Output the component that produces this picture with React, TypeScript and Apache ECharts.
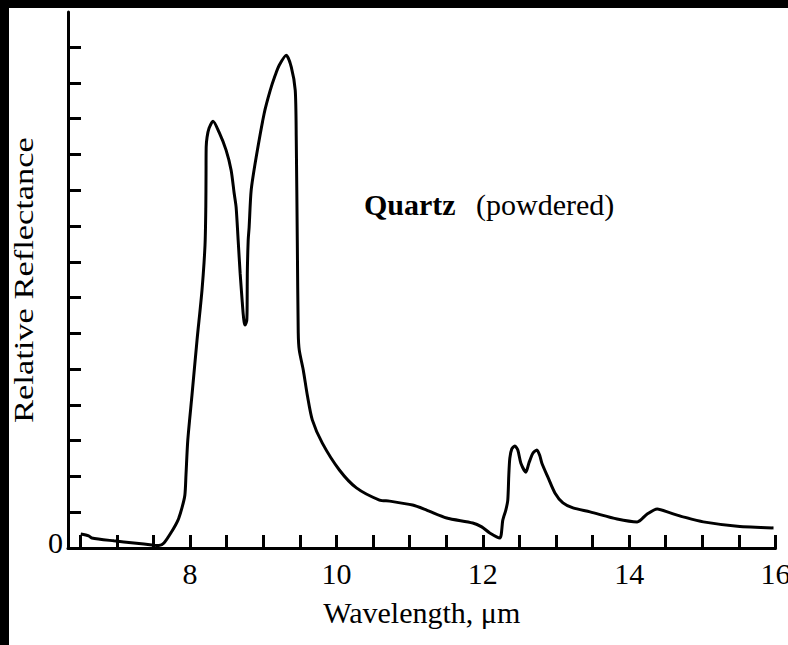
import React, { useEffect, useRef } from "react";
import * as echarts from "echarts";

// Wavelength (µm) and relative reflectance (tick units)
const wavelength = [
  6.507, 6.616, 6.658, 6.959, 7.233, 7.507, 7.575, 7.644, 7.753, 7.836, 7.89, 7.93,
  7.945, 7.97, 8.027, 8.096, 8.164, 8.205, 8.216, 8.219, 8.221, 8.233, 8.26, 8.315,
  8.397, 8.493, 8.562, 8.603, 8.63, 8.658, 8.685, 8.712, 8.726, 8.74, 8.753, 8.776,
  8.781, 8.783, 8.795, 8.808, 8.836, 8.904, 9.014, 9.096, 9.164, 9.219, 9.315, 9.384,
  9.438, 9.452, 9.466, 9.479, 9.493, 9.548, 9.603, 9.671, 9.808, 10.041, 10.274,
  10.589, 10.726, 11.041, 11.233, 11.507, 11.863, 11.986, 12.096, 12.233, 12.274,
  12.315, 12.342, 12.356, 12.37, 12.397, 12.438, 12.479, 12.521, 12.589, 12.63,
  12.685, 12.74, 12.781, 12.808, 12.89, 12.986, 13.096, 13.233, 13.466, 13.836,
  14.11, 14.247, 14.384, 14.562, 14.74, 15.014, 15.479, 15.973,
];
const reflectance = [
  0.39, 0.34, 0.28, 0.2, 0.14, 0.08, 0.07, 0.14, 0.47, 0.78, 1.12, 1.48,
  2.04, 3.02, 4.27, 5.81, 7.21, 8.46, 9.53, 10.47, 11.2, 11.48, 11.73, 11.93,
  11.62, 11.12, 10.56, 9.92, 9.53, 8.6, 7.68, 6.93, 6.56, 6.31, 6.23, 6.37,
  6.93, 7.68, 8.6, 8.97, 10.0, 10.92, 12.15, 12.79, 13.21, 13.49, 13.77, 13.44,
  12.79, 11.4, 8.6, 6.01, 5.53, 4.97, 4.27, 3.58, 2.93, 2.18, 1.68,
  1.34, 1.31, 1.2, 1.06, 0.84, 0.7, 0.59, 0.42, 0.28, 0.78,
  1.06, 1.34, 2.04, 2.51, 2.77, 2.85, 2.74, 2.37, 2.12, 2.37,
  2.65, 2.74, 2.57, 2.37, 1.98, 1.54, 1.26, 1.12, 1.01, 0.81,
  0.73, 0.95, 1.09, 0.98, 0.87, 0.73, 0.61, 0.56,
];

const xTickValues = [6.5, 7, 7.5, 8, 8.5, 9, 9.5, 10, 10.5, 11, 11.5, 12, 12.5, 13, 13.5, 14, 14.5, 15, 15.5, 16];
const xLabelValues = [8, 10, 12, 14, 16];
const yTickValues = [1, 2, 3, 4, 5, 6, 7, 8, 9, 10, 11, 12, 13, 14];
const yLabelValues = [0];

const xAxisName = "Wavelength, μm";
const yAxisName = "Relative Reflectance";
const titleBold = "Quartz";
const titleNormal = "(powdered)";

const FONT = '"Liberation Serif", "Times New Roman", serif';

export default function App() {
  const ref = useRef<HTMLDivElement>(null);

  useEffect(() => {
    document.documentElement.style.background = "#000";
    document.body.style.background = "#000";
    if (!ref.current) return;
    const chart = echarts.init(ref.current, null, { renderer: "svg" });
    const data = wavelength.map((w, i) => [w, reflectance[i]]);
    chart.setOption({
      animation: false,
      backgroundColor: "#fff",
      grid: { left: 59, top: 4, width: 707.5, height: 536, containLabel: false, outerBoundsMode: "none" },
      xAxis: {
        type: "value",
        min: 6.333,
        max: 16,
        splitLine: { show: false },
        axisLine: { onZero: false, lineStyle: { color: "#000", width: 3 } },
        axisTick: {
          inside: true,
          length: 13,
          customValues: xTickValues,
          lineStyle: { color: "#000", width: 3 },
        },
        axisLabel: {
          customValues: xLabelValues,
          color: "#000",
          fontFamily: FONT,
          fontSize: 30,
          lineHeight: 30,
          margin: 10,
          hideOverlap: false,
        },
        name: xAxisName,
        nameLocation: "middle",
        nameGap: 49,
        nameTextStyle: { color: "#000", fontFamily: FONT, fontSize: 30, lineHeight: 30 },
      },
      yAxis: {
        type: "value",
        min: 0,
        max: 14.98,
        splitLine: { show: false },
        axisLine: { onZero: false, lineStyle: { color: "#000", width: 3 } },
        axisTick: {
          inside: true,
          length: 13,
          customValues: yTickValues,
          lineStyle: { color: "#000", width: 3 },
        },
        axisLabel: {
          customValues: yLabelValues,
          color: "#000",
          fontFamily: FONT,
          fontSize: 30,
          lineHeight: 12,
          margin: 5,
          verticalAlign: "bottom",
        },
      },
      graphic: [
        {
          type: "text",
          x: 15,
          y: 272,
          rotation: Math.PI / 2,
          scaleX: 1.23,
          style: {
            text: yAxisName,
            fill: "#000",
            font: `28px ${FONT}`,
            textAlign: "center",
            textVerticalAlign: "middle",
          },
        },
        {
          type: "text",
          left: 355,
          top: 181,
          style: { text: titleBold, fill: "#000", font: `bold 30px ${FONT}` },
        },
        {
          type: "text",
          left: 467,
          top: 181,
          style: { text: titleNormal, fill: "#000", font: `30px ${FONT}` },
        },
      ],
      series: [
        {
          type: "line",
          data,
          showSymbol: false,
          smooth: 0.25,
          lineStyle: { color: "#000", width: 3 },
        },
      ],
    });
    return () => chart.dispose();
  }, []);

  return (
    <div
      ref={ref}
      style={{ position: "fixed", left: 9, top: 8, width: 779, height: 637, background: "#fff" }}
    />
  );
}
